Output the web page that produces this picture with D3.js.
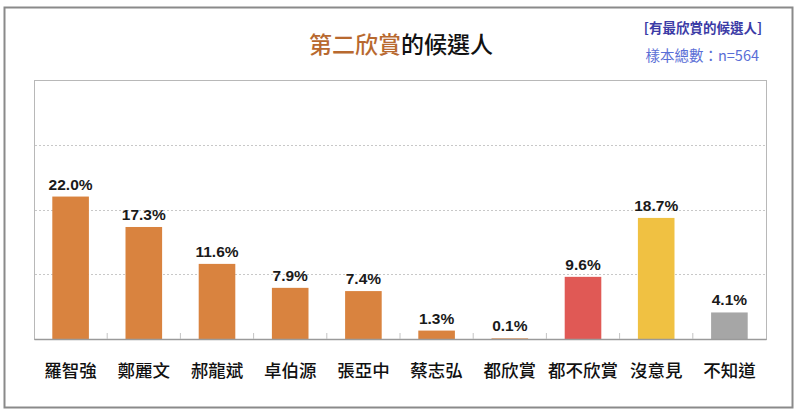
<!DOCTYPE html>
<html>
<head>
<meta charset="utf-8">
<script src="https://cdn.jsdelivr.net/npm/d3@7"></script>
<style>
  body { margin: 0; background: #fff; }
  svg { display: block; }
</style>
</head>
<body>
<svg width="800" height="410"></svg>
<script>
var categories = ['羅智強', '鄭麗文', '郝龍斌', '卓伯源', '張亞中', '蔡志弘', '都欣賞', '都不欣賞', '沒意見', '不知道'];
var values = [22.0, 17.3, 11.6, 7.9, 7.4, 1.3, 0.1, 9.6, 18.7, 4.1];
var barColors = ['#d9833f', '#d9833f', '#d9833f', '#d9833f', '#d9833f', '#d9833f', '#d9833f', '#e05955', '#f0c142', '#a6a6a6'];
var gridTicks = [10, 20, 30];

var data = categories.map((c, i) => ({ name: c, value: values[i], color: barColors[i] }));

var svg = d3.select('svg');
var cjk = '"Noto Sans CJK TC", "Noto Sans CJK SC", sans-serif';

var plotLeft = 34, plotRight = 766, plotTop = 80, plotBottom = 339;

var xScale = d3.scaleBand()
  .domain(categories)
  .range([plotLeft, plotRight])
  .paddingInner(0.5)
  .paddingOuter(0.25);

var yScale = d3.scaleLinear()
  .domain([0, 40])
  .range([plotBottom, plotTop]);

// outer frame
svg.append('rect')
  .attr('x', 4.5).attr('y', 7.5)
  .attr('width', 788).attr('height', 400)
  .attr('fill', 'none')
  .attr('stroke', '#8a8a8a')
  .attr('stroke-width', 2);

// plot box
svg.append('rect')
  .attr('x', plotLeft + 0.5).attr('y', plotTop + 0.5)
  .attr('width', plotRight - plotLeft).attr('height', plotBottom - plotTop)
  .attr('fill', 'none')
  .attr('stroke', '#b8b8b8')
  .attr('stroke-width', 1);

// dotted grid
svg.append('g')
  .selectAll('line')
  .data(gridTicks)
  .enter()
  .append('line')
  .attr('x1', plotLeft + 1).attr('x2', plotRight)
  .attr('y1', d => Math.round(yScale(d)) + 0.5)
  .attr('y2', d => Math.round(yScale(d)) + 0.5)
  .attr('stroke', '#c8c8c8')
  .attr('stroke-dasharray', '2,2');

// bars
svg.append('g')
  .selectAll('rect')
  .data(data)
  .enter()
  .append('rect')
  .attr('x', d => xScale(d.name))
  .attr('y', d => yScale(d.value))
  .attr('width', xScale.bandwidth())
  .attr('height', d => yScale(0) - yScale(d.value))
  .attr('fill', d => d.color);

// x axis with tick marks between bands
var step = xScale.step();
var xAxis = d3.axisBottom(xScale).tickSize(0).tickFormat('');
svg.append('g')
  .attr('transform', 'translate(0,' + plotBottom + ')')
  .call(xAxis)
  .call(g => g.select('.domain').attr('stroke', '#9a9a9a').attr('stroke-width', 1.5));

svg.append('g')
  .selectAll('line')
  .data(categories.slice(1))
  .enter()
  .append('line')
  .attr('x1', d => xScale(d) - (step - xScale.bandwidth()) / 2)
  .attr('x2', d => xScale(d) - (step - xScale.bandwidth()) / 2)
  .attr('y1', plotBottom - 6).attr('y2', plotBottom)
  .attr('stroke', '#c4c4c4');

// value labels
svg.append('g')
  .selectAll('text')
  .data(data)
  .enter()
  .append('text')
  .attr('x', d => xScale(d.name) + xScale.bandwidth() / 2)
  .attr('y', d => yScale(d.value) - 7)
  .style('text-anchor', 'middle')
  .style('font-family', 'Arial, "Liberation Sans", sans-serif')
  .style('font-weight', 'bold')
  .style('font-size', '15.5px')
  .attr('fill', '#1a1a1a')
  .text(d => d.value.toFixed(1) + '%');

// category labels
svg.append('g')
  .selectAll('text')
  .data(data)
  .enter()
  .append('text')
  .attr('x', d => xScale(d.name) + xScale.bandwidth() / 2)
  .attr('y', 377)
  .style('text-anchor', 'middle')
  .style('font-family', cjk)
  .style('font-weight', 500)
  .style('font-size', '17.5px')
  .attr('fill', '#111')
  .text(d => d.name);

// title
var title = svg.append('text')
  .attr('x', 401)
  .attr('y', 53)
  .style('text-anchor', 'middle')
  .style('font-family', cjk)
  .style('font-weight', 500)
  .style('font-size', '23px');
title.append('tspan').attr('fill', '#b8692f').text('第二欣賞');
title.append('tspan').attr('fill', '#111').text('的候選人');

// notes
svg.append('text')
  .attr('x', 762)
  .attr('y', 33)
  .style('text-anchor', 'end')
  .style('font-family', cjk)
  .style('font-weight', 'bold')
  .style('font-size', '13.5px')
  .attr('fill', '#3b3ba6')
  .text('[有最欣賞的候選人]');

svg.append('text')
  .attr('x', 759)
  .attr('y', 61)
  .style('text-anchor', 'end')
  .style('font-family', cjk)
  .style('font-size', '14.5px')
  .attr('fill', '#5a6ed6')
  .text('樣本總數：n=564');
</script>
</body>
</html>
